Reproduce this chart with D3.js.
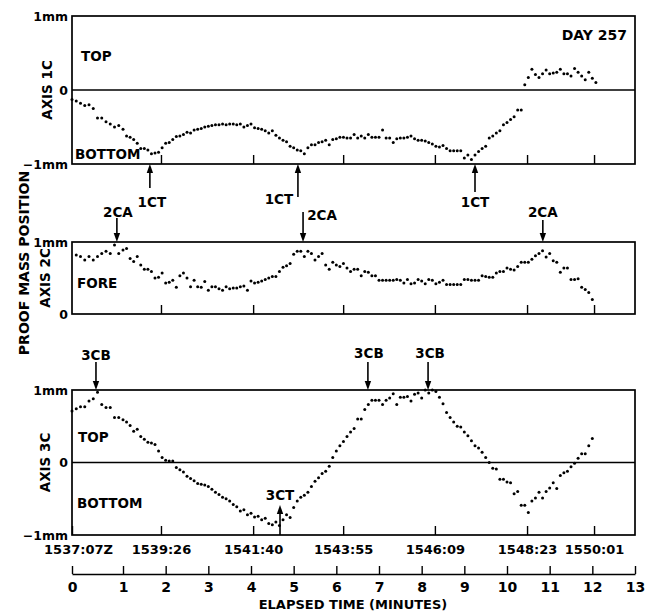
<!DOCTYPE html>
<html>
<head>
<meta charset="utf-8">
<script src="https://cdn.jsdelivr.net/npm/d3@7"></script>
<style>
  body { margin: 0; background: #fff; }
  svg text { font-family: "DejaVu Sans", sans-serif; font-weight: bold; fill: #000; }
</style>
</head>
<body>
<svg id="chart"></svg>
<script>
// canvas
var width = 656;
var height = 612;

// ---- data ----
// elapsed time axis (minutes)
var elapsedTicks = [0, 1, 2, 3, 4, 5, 6, 7, 8, 9, 10, 11, 12, 13];
// clock time marks (position in elapsed minutes) and their labels
var clockTimes = [0, 1.89, 4.05, 6.16, 8.31, 10.47, 12.04];
var clockLabels = ["1537:07Z", "1539:26", "1541:40", "1543:55", "1546:09", "1548:23", "1550:01"];

// one sample every 5 seconds, starting at elapsed 0
var sampleStepMin = 5 / 60;

// proof mass position, mm
var axis1C = [-0.13, -0.15, -0.18, -0.21, -0.20, -0.25, -0.38, -0.38, -0.43, -0.46,
  -0.50, -0.48, -0.53, -0.62, -0.64, -0.67, -0.72, -0.79, -0.79, -0.81,
  -0.86, -0.85, -0.84, -0.78, -0.72, -0.71, -0.67, -0.63, -0.62, -0.60,
  -0.57, -0.58, -0.54, -0.53, -0.52, -0.50, -0.49, -0.48, -0.47, -0.47,
  -0.46, -0.47, -0.46, -0.46, -0.47, -0.46, -0.50, -0.48, -0.46, -0.51,
  -0.52, -0.53, -0.55, -0.58, -0.55, -0.61, -0.65, -0.68, -0.70, -0.76,
  -0.78, -0.81, -0.82, -0.86, -0.78, -0.74, -0.74, -0.71, -0.70, -0.68,
  -0.74, -0.67, -0.66, -0.64, -0.64, -0.65, -0.65, -0.60, -0.65, -0.62,
  -0.65, -0.60, -0.64, -0.64, -0.64, -0.54, -0.65, -0.65, -0.71, -0.66,
  -0.65, -0.65, -0.64, -0.62, -0.66, -0.68, -0.68, -0.69, -0.71, -0.73,
  -0.76, -0.77, -0.75, -0.79, -0.82, -0.82, -0.82, -0.82, -0.92, -0.88,
  -0.94, -0.88, -0.83, -0.79, -0.76, -0.65, -0.62, -0.58, -0.55, -0.47,
  -0.44, -0.40, -0.36, -0.27, -0.27, 0.07, 0.17, 0.28, 0.21, 0.17,
  0.22, 0.27, 0.22, 0.23, 0.24, 0.28, 0.22, 0.22, 0.19, 0.29,
  0.24, 0.19, 0.14, 0.24, 0.16, 0.10];

var axis2C = [null, 0.82, 0.80, 0.75, 0.80, 0.75, 0.80, 0.84, 0.87, 0.84,
  0.96, 0.84, 0.89, 0.91, 0.77, 0.73, 0.80, 0.68, 0.62, 0.62,
  0.59, 0.50, 0.51, 0.57, 0.43, 0.44, 0.47, 0.37, 0.53, 0.57,
  0.50, 0.38, 0.47, 0.38, 0.37, 0.45, 0.33, 0.38, 0.38, 0.35,
  0.33, 0.38, 0.35, 0.36, 0.36, 0.38, 0.39, 0.33, 0.46, 0.43,
  0.44, 0.46, 0.48, 0.50, 0.52, 0.52, 0.59, 0.65, 0.67, 0.70,
  0.83, 0.87, 0.87, 0.80, 0.87, 0.84, 0.75, 0.80, 0.84, 0.68,
  0.62, 0.72, 0.68, 0.66, 0.70, 0.64, 0.59, 0.62, 0.62, 0.53,
  0.59, 0.58, 0.53, 0.53, 0.47, 0.47, 0.47, 0.47, 0.47, 0.48,
  0.47, 0.43, 0.48, 0.42, 0.43, 0.48, 0.46, 0.42, 0.48, 0.47,
  0.42, 0.44, 0.47, 0.41, 0.41, 0.41, 0.41, 0.41, 0.48, 0.48,
  0.47, 0.47, 0.47, 0.53, 0.52, 0.51, 0.51, 0.57, 0.59, 0.59,
  0.64, 0.62, 0.61, 0.66, 0.72, 0.72, 0.72, 0.76, 0.81, 0.84,
  0.88, 0.79, 0.84, 0.74, 0.72, 0.58, 0.64, 0.64, 0.48, 0.48,
  0.49, 0.37, 0.34, 0.30, 0.20];

var axis3C = [0.71, 0.74, 0.77, 0.77, 0.85, 0.88, 0.97, 0.80, 0.76, 0.76,
  0.62, 0.62, 0.59, 0.56, 0.51, 0.43, 0.46, 0.36, 0.32, 0.28,
  0.27, 0.25, 0.16, 0.07, 0.03, 0.02, 0.02, -0.07, -0.10, -0.13,
  -0.19, -0.22, -0.25, -0.29, -0.30, -0.31, -0.33, -0.37, -0.41, -0.44,
  -0.48, -0.50, -0.53, -0.58, -0.61, -0.67, -0.65, -0.72, -0.70, -0.75,
  -0.74, -0.79, -0.77, -0.84, -0.86, -0.82, -0.87, -0.79, -0.72, -0.76,
  -0.62, -0.53, -0.48, -0.45, -0.41, -0.33, -0.26, -0.21, -0.15, -0.12,
  -0.05, 0.07, 0.16, 0.23, 0.29, 0.36, 0.42, 0.47, 0.60, 0.60,
  0.73, 0.80, 0.86, 0.86, 0.86, 0.80, 0.86, 0.89, 0.95, 0.80,
  0.90, 0.90, 0.91, 0.85, 0.94, 0.96, 0.89, 1.00, 0.96, 1.00,
  0.98, 0.90, 0.81, 0.69, 0.62, 0.56, 0.50, 0.49, 0.42, 0.37,
  0.30, 0.23, 0.20, 0.14, 0.07, 0.00, -0.08, -0.09, -0.23, -0.23,
  -0.27, -0.28, -0.43, -0.40, -0.59, -0.59, -0.69, -0.53, -0.49, -0.41,
  -0.49, -0.40, -0.35, -0.28, -0.36, -0.18, -0.14, -0.12, -0.06, -0.01,
  0.06, 0.12, 0.12, 0.23, 0.33];

// thruster events (elapsed minutes)
var events1CT = [1.63, 5.10, 9.25];
var events2CA = [0.88, 5.22, 10.84];
var events3CB = [0.47, 6.74, 8.15];
var events3CT = [4.68];

// ---- layout ----
var svg = d3.select("svg#chart")
  .attr("width", width)
  .attr("height", height);

svg.append("rect")
  .attr("width", width)
  .attr("height", height)
  .attr("fill", "#fff");

// the printed minute scale is a little uneven between 0 and 1
var xScale = d3.scaleLinear()
  .domain([0, 1, 13])
  .range([72, 123, 635]);

var panels = [
  {values: axis1C, domain: [-1, 1], top: 16, bottom: 164, title: "AXIS 1C", titleX: 52,
   notes: [["TOP", 81, 61], ["BOTTOM", 75, 159]]},
  {values: axis2C, domain: [0, 1], top: 242, bottom: 314, title: "AXIS 2C", titleX: 50,
   notes: [["FORE", 77, 288]]},
  {values: axis3C, domain: [-1, 1], top: 390, bottom: 535, title: "AXIS 3C", titleX: 50,
   notes: [["TOP", 78, 442], ["BOTTOM", 77, 508]]}
];

var mmFormat = function(d) {
  if (d === 1) return "1mm";
  if (d === -1) return "\u22121mm";
  return "0";
};

var styleAxis = function(g, size) {
  g.attr("font-family", null).attr("font-size", null);
  g.selectAll("text").style("font-size", size + "px");
  g.selectAll(".tick line").attr("stroke", "#000").attr("stroke-width", 1.4);
};

panels.forEach(function(p, k) {
  p.y = d3.scaleLinear().domain(p.domain).range([p.bottom, p.top]);
  var g = svg.append("g").attr("class", "panel");

  // frame
  g.append("rect")
    .attr("x", xScale(0))
    .attr("y", p.top)
    .attr("width", xScale(13) - xScale(0))
    .attr("height", p.bottom - p.top)
    .attr("fill", "none")
    .attr("stroke", "#000")
    .attr("stroke-width", 1.7);

  // zero line
  if (p.domain[0] < 0) {
    g.append("line")
      .attr("x1", xScale(0))
      .attr("x2", xScale(13))
      .attr("y1", p.y(0))
      .attr("y2", p.y(0))
      .attr("stroke", "#000")
      .attr("stroke-width", 1.6);
  }

  // mm labels
  var yAxis = d3.axisLeft(p.y)
    .tickValues(p.domain[0] < 0 ? [-1, 0, 1] : [0, 1])
    .tickSize(0)
    .tickPadding(4)
    .tickFormat(mmFormat);
  var ya = g.append("g")
    .attr("transform", "translate(" + xScale(0) + ",0)")
    .call(yAxis);
  ya.select(".domain").remove();
  styleAxis(ya, 12.5);

  // clock time tick marks along the bottom edge
  var tAxis = d3.axisBottom(xScale)
    .tickValues(k === 2 ? clockTimes : clockTimes.slice(1))
    .tickSize(-9)
    .tickPadding(10)
    .tickFormat(k === 2 ? function(d, i) { return clockLabels[i]; } : "");
  var ta = g.append("g")
    .attr("transform", "translate(0," + p.bottom + ")")
    .call(tAxis);
  ta.select(".domain").remove();
  styleAxis(ta, 13);
  if (k === 2) {
    ta.select(".tick text").attr("dx", 6);
  }

  // axis title
  g.append("text")
    .attr("transform", "translate(" + p.titleX + "," + (p.top + p.bottom) / 2 + ") rotate(-90)")
    .style("text-anchor", "middle")
    .style("font-size", "13.5px")
    .text(p.title);

  p.notes.forEach(function(n) {
    g.append("text")
      .attr("x", n[1])
      .attr("y", n[2])
      .style("font-size", "13.5px")
      .text(n[0]);
  });

  // samples
  var pts = p.values.map(function(v, i) { return {t: i * sampleStepMin, v: v}; })
    .filter(function(d) { return d.v !== null; });
  g.selectAll("circle.sample")
    .data(pts)
    .enter()
    .append("circle")
    .attr("class", "sample")
    .attr("cx", function(d) { return xScale(d.t); })
    .attr("cy", function(d) { return p.y(d.v); })
    .attr("r", 1.5)
    .attr("fill", "#000");
});

// DAY 257
svg.append("text")
  .attr("x", 627)
  .attr("y", 40)
  .style("text-anchor", "end")
  .style("font-size", "14px")
  .text("DAY 257");

// shared y title
svg.append("text")
  .attr("transform", "translate(29,263) rotate(-90)")
  .style("text-anchor", "middle")
  .style("font-size", "14px")
  .text("PROOF MASS POSITION");

// ---- thruster arrows ----
// edge: which frame line the arrow touches; tip/tail are offsets from it
var annotations = [
  {label: "1CT", times: events1CT, panel: 0, edge: "bottom",
   tip: [0, 0, 0], tail: [24, 33, 28], text: [[2, 43], [-19, 40], [0, 43]]},
  {label: "2CA", times: events2CA, panel: 1, edge: "top",
   tip: [0, 0, 0], tail: [-24, -30, -22], text: [[1, -25], [19, -22], [0, -25]]},
  {label: "3CB", times: events3CB, panel: 2, edge: "top",
   tip: [0, 0, 0], tail: [-28, -28, -28], text: [[0, -30], [1, -32], [2, -32]]},
  {label: "3CT", times: events3CT, panel: 2, edge: "bottom",
   tip: [-30], tail: [0], text: [[0, -35]]}
];

var arrows = svg.append("g").attr("class", "arrows");

annotations.forEach(function(a) {
  var p = panels[a.panel];
  var edgeY = a.edge === "top" ? p.top : p.bottom;
  a.times.forEach(function(t, i) {
    var x = xScale(t);
    var yTip = edgeY + a.tip[i];
    var yTail = edgeY + a.tail[i];
    var s = yTail > yTip ? 1 : -1;
    arrows.append("line")
      .attr("x1", x).attr("x2", x)
      .attr("y1", yTail).attr("y2", yTip + s * 6)
      .attr("stroke", "#000")
      .attr("stroke-width", 1.6);
    arrows.append("path")
      .attr("d", "M" + (x - 3.2) + "," + (yTip + s * 9) + "L" + (x + 3.2) + "," + (yTip + s * 9) + "L" + x + "," + yTip + "Z")
      .attr("fill", "#000");
    arrows.append("text")
      .attr("x", x + a.text[i][0])
      .attr("y", edgeY + a.text[i][1])
      .style("text-anchor", "middle")
      .style("font-size", "13.5px")
      .text(a.label);
  });
});

// ---- elapsed minutes axis ----
var eAxis = d3.axisBottom(xScale)
  .tickValues(elapsedTicks)
  .tickSizeInner(-8)
  .tickSizeOuter(0)
  .tickPadding(8)
  .tickFormat(d3.format("d"));

var ea = svg.append("g")
  .attr("class", "elapsed")
  .attr("transform", "translate(0,574)")
  .call(eAxis);
ea.select(".domain").attr("stroke", "#000").attr("stroke-width", 1.6);
styleAxis(ea, 14);

svg.append("text")
  .attr("x", 353)
  .attr("y", 609)
  .style("text-anchor", "middle")
  .style("font-size", "13px")
  .text("ELAPSED TIME (MINUTES)");
</script>
</body>
</html>
